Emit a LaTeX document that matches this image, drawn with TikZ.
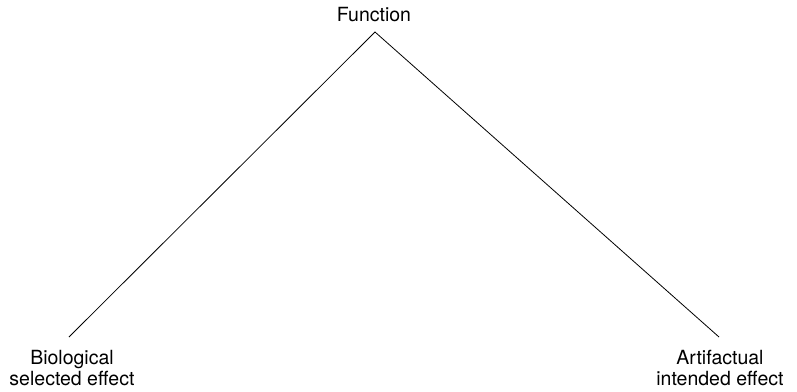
\documentclass[tikz,border=0pt]{standalone}
\usepackage{fontspec}
\setmainfont{TeX Gyre Heros}
\usetikzlibrary{positioning}

\begin{document}
\begin{tikzpicture}[x=1pt,y=-1pt,
  lbl/.style={align=center,font=\fontsize{19.5}{21}\selectfont,inner sep=0pt}]
  \useasboundingbox (0,0) rectangle (797,391);
  \node[lbl,anchor=base] (fn) at (374,21) {Function};
  \node[lbl,anchor=north] (bio) at (72,350) {Biological\\selected effect};
  \node[lbl,anchor=north] (art) at (720,350) {Artifactual\\intended effect};
  \coordinate (top) at (375,32);
  \coordinate (lend) at (69,337);
  \coordinate (rend) at (719,337);
  \draw[line width=0.8pt] (lend)--(top)--(rend);
\end{tikzpicture}
\end{document}
